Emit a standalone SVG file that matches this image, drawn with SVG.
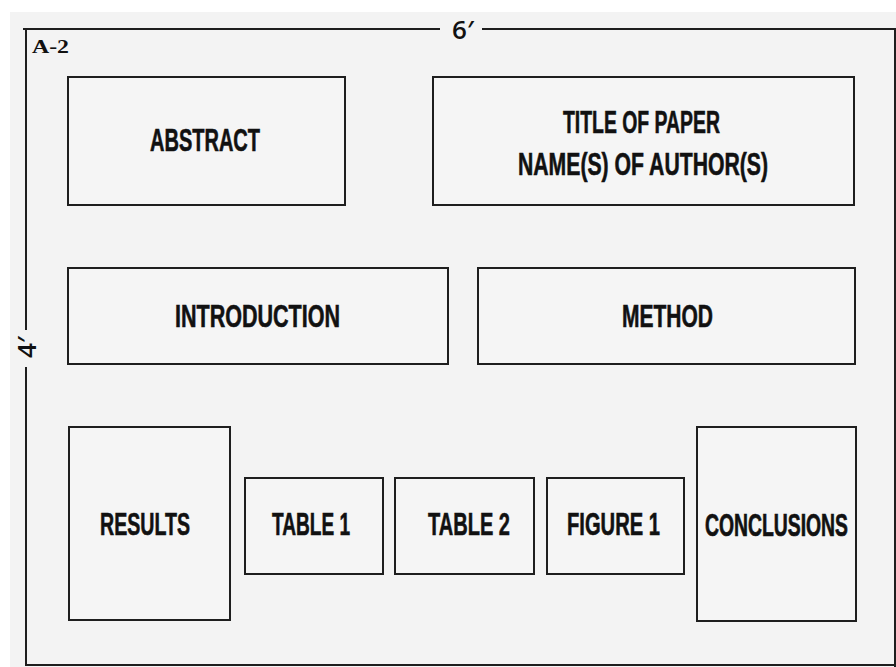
<svg xmlns="http://www.w3.org/2000/svg" width="896" height="667" viewBox="0 0 896 667">
<style>
.box{fill:#f5f5f5;stroke:#1e1e1e;stroke-width:2}
.frame{fill:none;stroke:#1e1e1e;stroke-width:2}
.lbl{font-family:"Liberation Sans",Arial,sans-serif;font-weight:bold;font-size:32px;fill:#111;stroke:#111;stroke-width:0.6}
.dim{font-family:"Open Sans","Liberation Sans",sans-serif;font-weight:600;font-size:26px;fill:#111}
</style>
<rect x="0" y="0" width="896" height="667" fill="#ffffff"/>
<rect x="10" y="12" width="886" height="655" fill="#f3f3f3"/>
<g id="frame">
<path class="frame" d="M23,29 H440 M482,29 H895 V667 M26,29 V330 M26,367 V665 H896"/>
<text x="463" y="39" class="dim" text-anchor="middle">6′</text>
<text transform="translate(36,347) rotate(-90)" class="dim" text-anchor="middle">4′</text>
<text x="32" y="53" font-family="'Liberation Serif',serif" font-weight="bold" font-size="19" fill="#111" textLength="37" lengthAdjust="spacingAndGlyphs">A-2</text>
</g>
<g id="abstract">
<rect class="box" x="68" y="77" width="277" height="128"/>
<text class="lbl" x="150" y="151" textLength="110" lengthAdjust="spacingAndGlyphs">ABSTRACT</text>
</g>
<g id="title">
<rect class="box" x="433" y="77" width="421" height="128"/>
<text class="lbl" x="563" y="133" textLength="157" lengthAdjust="spacingAndGlyphs">TITLE OF PAPER</text>
<text class="lbl" x="518" y="175" textLength="250" lengthAdjust="spacingAndGlyphs">NAME(S) OF AUTHOR(S)</text>
</g>
<g id="introduction">
<rect class="box" x="68" y="268" width="380" height="96"/>
<text class="lbl" x="175" y="327" textLength="165" lengthAdjust="spacingAndGlyphs">INTRODUCTION</text>
</g>
<g id="method">
<rect class="box" x="478" y="268" width="377" height="96"/>
<text class="lbl" x="622" y="327" textLength="91" lengthAdjust="spacingAndGlyphs">METHOD</text>
</g>
<g id="results">
<rect class="box" x="69" y="427" width="161" height="193"/>
<text class="lbl" x="100" y="535" textLength="90" lengthAdjust="spacingAndGlyphs">RESULTS</text>
</g>
<g id="table1">
<rect class="box" x="245" y="478" width="138" height="96"/>
<text class="lbl" x="272" y="535" textLength="78" lengthAdjust="spacingAndGlyphs">TABLE 1</text>
</g>
<g id="table2">
<rect class="box" x="395" y="478" width="139" height="96"/>
<text class="lbl" x="428" y="535" textLength="82" lengthAdjust="spacingAndGlyphs">TABLE 2</text>
</g>
<g id="figure1">
<rect class="box" x="547" y="478" width="137" height="96"/>
<text class="lbl" x="567" y="535" textLength="93" lengthAdjust="spacingAndGlyphs">FIGURE 1</text>
</g>
<g id="conclusions">
<rect class="box" x="697" y="427" width="159" height="194"/>
<text class="lbl" transform="translate(705,536) scale(1,1.65)" x="0" y="0" style="font-size:19.4px;stroke-width:0.45" textLength="143" lengthAdjust="spacingAndGlyphs">CONCLUSIONS</text>
</g>
<g id="connectors"></g>
</svg>
